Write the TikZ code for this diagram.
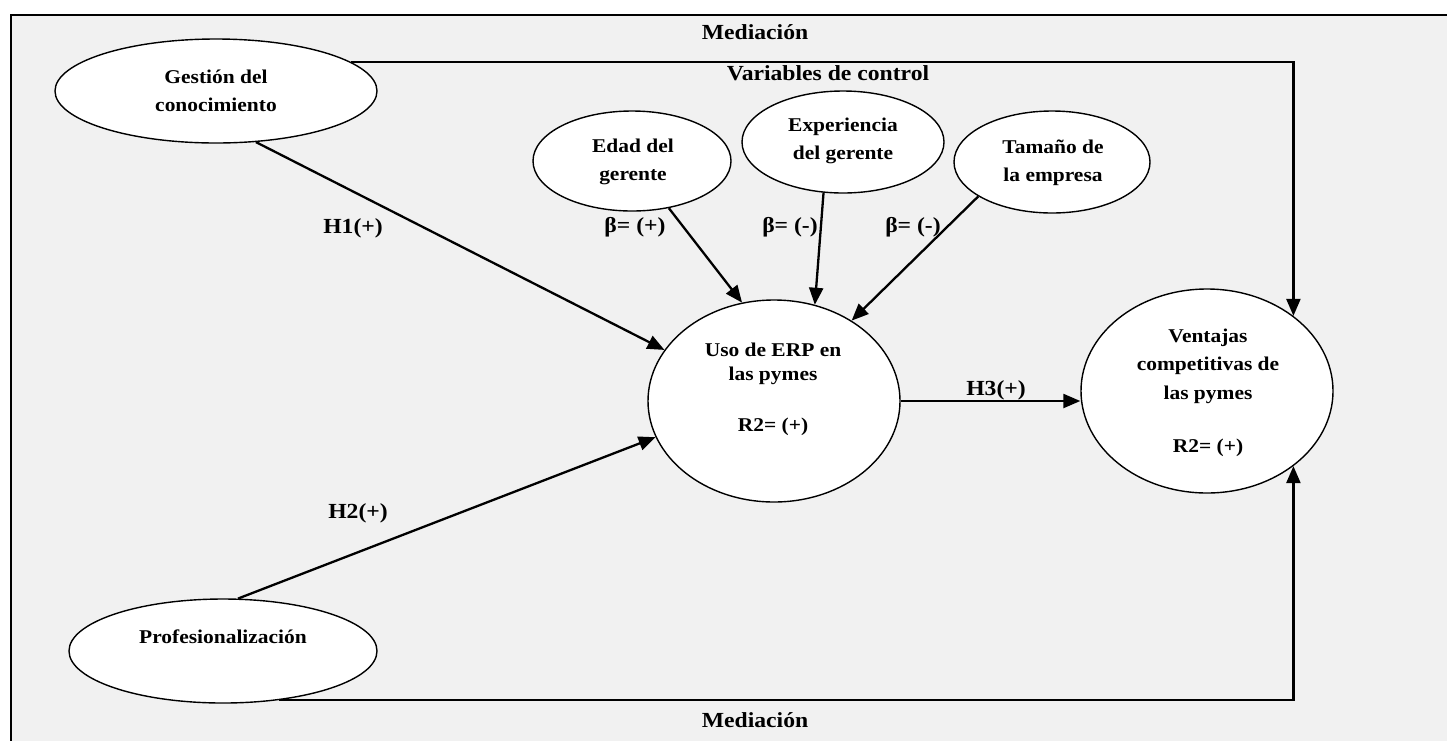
\documentclass[tikz,border=0pt]{standalone}
\usepackage{fontspec}
\setmainfont{Liberation Serif}[FakeStretch=1.1]
\usetikzlibrary{arrows.meta,shapes.geometric}
\definecolor{panel}{RGB}{241,241,241}
\begin{document}
\begin{tikzpicture}[x=1pt,y=-1pt,
  var/.style={ellipse,draw,fill=white,line width=1.4pt,inner sep=0pt},
  txt/.style={font=\bfseries\fontsize{19.5}{28.5}\selectfont,align=center,inner sep=0pt},
  lbl/.style={font=\bfseries\fontsize{21.5}{24}\selectfont,inner sep=0pt},
  link/.style={line width=2.3pt,-{Triangle[length=17pt,width=14pt]}},
  route/.style={line width=2.3pt}]
\useasboundingbox (0,0) rectangle (1447,740);
\clip (0,0) rectangle (1447,740);
\fill[white] (0,0) rectangle (1447,740);
% panel framing the model
\draw[fill=panel,line width=2.3pt] (11,15) rectangle (1480,770);

% latent variables
\node[var,minimum width=322pt,minimum height=104pt] (gest) at (216,91) {};
\node[var,minimum width=308pt,minimum height=104pt] (prof) at (223,651) {};
\node[var,minimum width=198pt,minimum height=100pt] (edad) at (632,161) {};
\node[var,minimum width=202pt,minimum height=102pt] (expe) at (843,142) {};
\node[var,minimum width=196pt,minimum height=102pt] (tam) at (1052,162) {};
\node[var,minimum width=252pt,minimum height=202pt] (uso) at (774,401) {};
\node[var,minimum width=252pt,minimum height=204pt] (vent) at (1207,391) {};

% texts inside the ellipses
\node[txt] (tgest) at (216,91) {Gestión del\\conocimiento};
\node[txt] (tprof) at (223,637) {Profesionalización};
\node[txt] (tedad) at (633,162) {Edad del\\gerente};
\node[txt] (texpe) at (843,141) {Experiencia\\del gerente};
\node[txt] (ttam) at (1053,163) {Tamaño de\\la empresa};
\node[txt,font=\bfseries\fontsize{19.5}{24.5}\selectfont] (tuso) at (773,364) {Uso de ERP en\\las pymes};
\node[txt] (ruso) at (773,427) {R2= (+)};
\node[txt] (tvent) at (1208,366) {Ventajas\\competitivas de\\las pymes};
\node[txt] (rvent) at (1208,448) {R2= (+)};

% labels
\node[lbl] (medtop) at (755,32) {Mediación};
\node[lbl] (medbot) at (755,720) {Mediación};
\node[lbl] (vctrl) at (828,73) {Variables de control};
\node[lbl] (h1) at (353,228) {H1(+)};
\node[lbl] (h2) at (358,513) {H2(+)};
\node[lbl] (h3) at (996,390) {H3(+)};
\node[lbl] (b1) at (635,227) {β= (+)};
\node[lbl] (b2) at (790,227) {β= (-)};
\node[lbl] (b3) at (913,227) {β= (-)};

% paths
\draw[link] (gest.-52) -- (uso.155);
\draw[link] (prof.74) -- (uso.197);
\draw[link] (edad.-52) -- (uso.108);
\draw[link] (expe.-111) -- (uso.67);
\draw[link] (tam.-155) -- (uso.46);
\draw[link] (uso.east) -- (uso.east -| vent.west);
\draw[link] (gest.12) -| (vent.41);
\draw[link] (prof.-41) -| (vent.-41);
\end{tikzpicture}
\end{document}
